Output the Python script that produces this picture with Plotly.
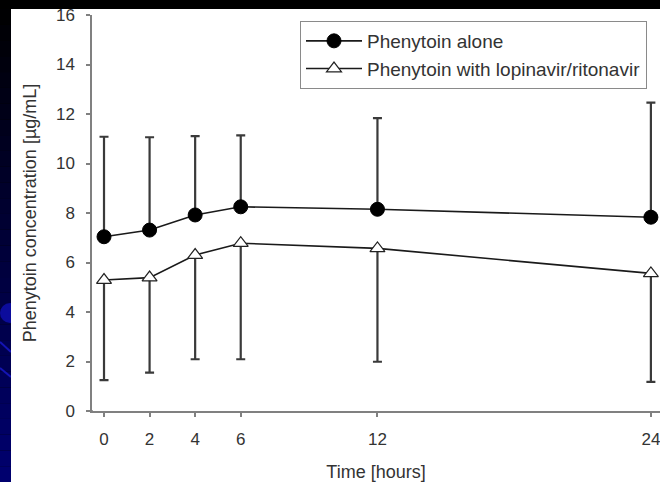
import plotly.graph_objects as go

# ---- data ----
time_h = [0, 2, 4, 6, 12, 24]
alone_mean = [7.04, 7.31, 7.92, 8.25, 8.15, 7.83]
alone_upper = [11.08, 11.06, 11.11, 11.14, 11.83, 12.46]
lpv_mean = [5.29, 5.39, 6.30, 6.78, 6.57, 5.56]
lpv_lower = [1.25, 1.55, 2.09, 2.09, 1.99, 1.18]
y_ticks = [0, 2, 4, 6, 8, 10, 12, 14, 16]
x_ticks = [0, 2, 4, 6, 12, 24]

W, H = 660, 482
L, R, T, B = 92, 0, 15, 71
PW, PH = W - L - R, H - T - B


def px(x):
    return (x - L) / PW


def py(y):
    return (H - B - y) / PH


alone_plus = [u - m for u, m in zip(alone_upper, alone_mean)]
lpv_minus = [m - l for m, l in zip(lpv_mean, lpv_lower)]
zeros = [0] * len(time_h)

fig = go.Figure()
fig.add_trace(go.Scatter(
    x=time_h, y=alone_mean, mode="lines+markers", name="Phenytoin alone",
    line=dict(color="#1a1a1a", width=1.6),
    marker=dict(symbol="circle", size=14, color="#000000",
                line=dict(color="#000000", width=1)),
    error_y=dict(type="data", symmetric=False, array=alone_plus,
                 arrayminus=zeros, color="#3a3a3a", thickness=2.2, width=4.5),
    cliponaxis=False,
))
fig.add_trace(go.Scatter(
    x=time_h, y=lpv_mean, mode="lines+markers",
    name="Phenytoin with lopinavir/ritonavir",
    line=dict(color="#1a1a1a", width=1.6),
    marker=dict(symbol="triangle-up", size=13, color="#ffffff",
                line=dict(color="#222222", width=1.2)),
    error_y=dict(type="data", symmetric=False, array=zeros,
                 arrayminus=lpv_minus, color="#3a3a3a", thickness=2.2, width=4.5),
    cliponaxis=False,
))

shapes = []
# left slide strip: gradient black -> navy
n = 30
for i in range(n):
    y0 = 9 + (H - 9) * i / n
    y1 = 9 + (H - 9) * (i + 1) / n
    b = int(round(0x70 * (i + 0.5) / n))
    shapes.append(dict(type="rect", xref="paper", yref="paper",
                       x0=px(0), x1=px(11), y0=py(y1), y1=py(y0),
                       fillcolor=f"rgb(0,0,{b})", line=dict(width=0),
                       layer="below"))
# decorative blue circle and lines
shapes.append(dict(type="circle", xref="paper", yref="paper",
                   x0=px(0), x1=px(20), y0=py(323), y1=py(303),
                   fillcolor="#0c0c9c", line=dict(width=0), layer="below"))
shapes.append(dict(type="line", xref="paper", yref="paper",
                   x0=px(0), x1=px(11), y0=py(342), y1=py(352),
                   line=dict(color="#1414b4", width=2), layer="below"))
shapes.append(dict(type="line", xref="paper", yref="paper",
                   x0=px(0), x1=px(11), y0=py(368), y1=py(377),
                   line=dict(color="#1414b4", width=2), layer="below"))
# white chart panel
shapes.append(dict(type="rect", xref="paper", yref="paper",
                   x0=px(11), x1=px(W), y0=py(H), y1=py(9),
                   fillcolor="#ffffff", line=dict(width=0), layer="below"))
# top black band
shapes.append(dict(type="rect", xref="paper", yref="paper",
                   x0=px(0), x1=px(W), y0=py(9), y1=py(0),
                   fillcolor="#000000", line=dict(width=0), layer="above"))
# x axis line extension to the left of y axis
shapes.append(dict(type="line", xref="paper", yref="paper",
                   x0=px(87), x1=px(93), y0=0, y1=0,
                   line=dict(color="#808080", width=1.5), layer="above"))

fig.update_layout(
    width=W, height=H,
    margin=dict(l=L, r=R, t=T, b=B, pad=0, autoexpand=False),
    paper_bgcolor="#000000", plot_bgcolor="#ffffff",
    font=dict(family="Liberation Sans, Arial, sans-serif", color="#333333"),
    shapes=shapes,
    showlegend=True,
    legend=dict(x=px(300), y=py(21), xanchor="left", yanchor="top",
                bgcolor="#ffffff", bordercolor="#8a8a8a", borderwidth=1,
                font=dict(size=19, color="#333333"), itemwidth=56,
                tracegroupgap=0),
    xaxis=dict(range=[-0.527, 24.4], tickvals=x_ticks,
               ticktext=[str(v) for v in x_ticks],
               showgrid=False, zeroline=False, showline=True,
               linecolor="#808080", linewidth=1.5,
               ticks="outside", ticklen=4, tickwidth=1.5, tickcolor="#808080",
               tickfont=dict(size=17, color="#333333"),
               ticklabelstandoff=8, automargin=False,
               ticklabeloverflow="allow",
               title=dict(text="Time [hours]", font=dict(size=18, color="#333333"),
                          standoff=23)),
    yaxis=dict(range=[0, 16], tickvals=y_ticks,
               ticktext=[str(v) for v in y_ticks],
               showgrid=False, zeroline=False, showline=True,
               linecolor="#808080", linewidth=1.5,
               ticks="outside", ticklen=4, tickwidth=1.5, tickcolor="#808080",
               tickfont=dict(size=17, color="#333333"),
               ticklabelstandoff=8, automargin=False,
               ticklabeloverflow="allow",
               title=dict(text="Phenytoin concentration [µg/mL]",
                          font=dict(size=18, color="#333333"))),
)

fig.write_html(
    "out.html",
    config={"displayModeBar": False},
    post_script="document.body.style.margin='0';document.body.style.overflow='hidden';",
)
